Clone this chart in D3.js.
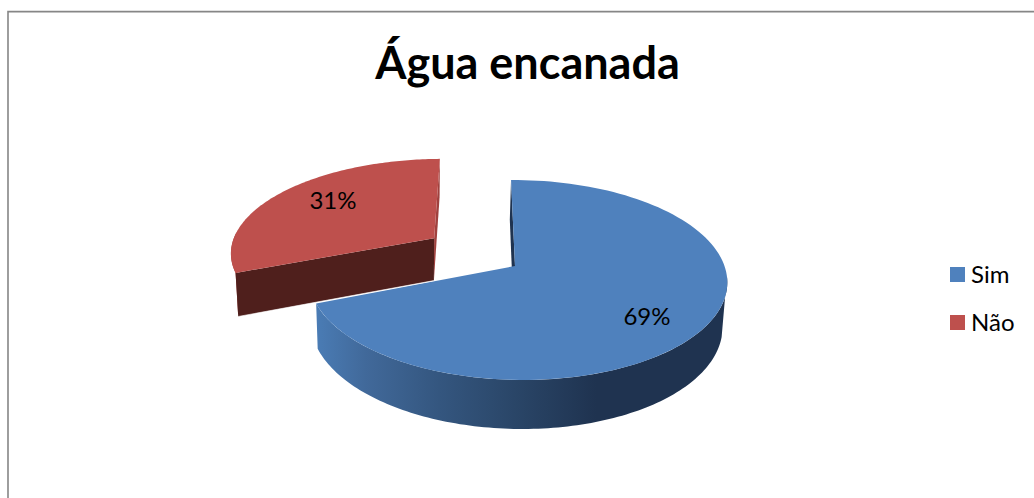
<!DOCTYPE html>
<html><head><meta charset="utf-8">
<script src="https://cdn.jsdelivr.net/npm/d3@7"></script>
<style>html,body{margin:0;padding:0;background:#fff}svg{display:block}text{font-family:Lato,"Open Sans",sans-serif;fill:#000}</style>
</head><body><svg id="c" width="1034" height="498"></svg>
<script>
const categories = ["Sim", "Não"];
const values = [69, 31];
const labels = ["69%", "31%"];
const titleText = "Água encanada";
const topColors = ["#4f81bd", "#be504d"];
const colors = {blueDark:"#1f3350", redCut:"#4f1f1c", redWall:"#a0413e"};

const svg = d3.select("#c");
// frame
svg.append("path").attr("d","M8,498V11.6H1034").attr("fill","none").attr("stroke","#868686").attr("stroke-width",1.6);

// projection of unit disk (u right, v toward viewer, h depth of slab 0..1) to screen
const P = {cx:515, cy:266, a:207, s:4.5, b:98, k:-0.14, m:-0.012, n:0.015, c:44.6, e:-1.5};
function proj(u,v,h){
  const w = 1 + P.k*v + P.m*u + P.n*h;
  return [P.cx + (P.a*u + P.s*v + P.e*h)/w, P.cy + (P.b*v + P.c*h)/w];
}
const pie = d3.pie().sort(null).value(d=>d)(values);
const rim = (ang,off,h,rx=1) => proj(off[0]+rx*Math.sin(ang), off[1]-Math.cos(ang), h);
const apex = (off,h) => proj(off[0],off[1],h);
const arcPts = (a0,a1,off,h,rx=1) => d3.range(0,121).map(i=>rim(a0+(a1-a0)*i/120,off,h,rx));
const line = d3.line();

const grad = svg.append("defs").append("linearGradient").attr("id","side").attr("gradientUnits","userSpaceOnUse")
  .attr("x1",316).attr("x2",728).attr("y1",0).attr("y2",0);
[[0,"#4a7cb5"],[0.12,"#41699a"],[0.3,"#34567f"],[0.48,"#2a4668"],[0.68,"#1f3350"],[1,"#1f3350"]]
  .forEach(s=>grad.append("stop").attr("offset",s[0]).attr("stop-color",s[1]));

// Blue slice
const b = pie[0], o0 = [0,0];
const wallTop = arcPts(Math.PI/2+0.1, b.endAngle, o0, 0);
const wallBot = arcPts(Math.PI/2+0.25, b.endAngle, o0, 1).reverse();
svg.append("path").attr("d",line(wallTop.concat(wallBot))+"Z").attr("fill","url(#side)");
svg.append("path").attr("d",line([rim(b.startAngle,o0,0),rim(b.startAngle,o0,1),apex(o0,1),apex(o0,0)])+"Z").attr("fill",colors.blueDark);
svg.append("path").attr("d",line([apex(o0,0)].concat(arcPts(b.startAngle,b.endAngle,o0,0)))+"Z").attr("fill",topColors[0]);

// Red slice, exploded
const r = pie[1], exAngle = r.startAngle + (r.endAngle-r.startAngle)*0.52, ex = 0.5, rxRed = 1.03;
const o1 = [ex*Math.sin(exAngle), -ex*Math.cos(exAngle)];
const rt = arcPts(r.startAngle,r.endAngle,o1,0,rxRed);
// thin outer wall beside the front cut
svg.append("path").attr("d",line(arcPts(r.startAngle,r.startAngle+0.45,o1,0,rxRed).concat([rim(r.startAngle,o1,1,rxRed)]))+"Z").attr("fill",colors.redWall);
svg.append("path").attr("d",line([rim(r.endAngle,o1,0,rxRed),rim(r.endAngle,o1,1,rxRed),apex(o1,1),apex(o1,0)])+"Z").attr("fill",colors.redWall);
svg.append("path").attr("d",line([apex(o1,0),rim(r.startAngle,o1,0,rxRed),rim(r.startAngle,o1,1,rxRed),apex(o1,1)])+"Z").attr("fill",colors.redCut);
svg.append("path").attr("d",line([apex(o1,0)].concat(rt))+"Z").attr("fill",topColors[1]);
svg.append("path").attr("d",line([rim(r.startAngle,o1,1,rxRed),apex(o1,1)])).attr("stroke","#fff").attr("stroke-opacity",.6).attr("fill","none");

// Labels
const lblPos = [[647,325],[333,209]];
labels.forEach((t,i)=>svg.append("text").attr("x",lblPos[i][0]).attr("y",lblPos[i][1]).attr("text-anchor","middle").attr("font-size",24).text(t));
svg.append("text").attr("x",527.5).attr("y",79).attr("text-anchor","middle").attr("font-size",45).attr("font-weight",700).text(titleText);

// Legend
const ly = d3.scalePoint().domain(categories).range([275,323]);
categories.forEach((c,i)=>{
  svg.append("rect").attr("x",950).attr("y",ly(c)-8).attr("width",15).attr("height",15).attr("fill",topColors[i]);
  svg.append("text").attr("x",971).attr("y",ly(c)+8).attr("font-size",24).text(c);
});
</script></body></html>
